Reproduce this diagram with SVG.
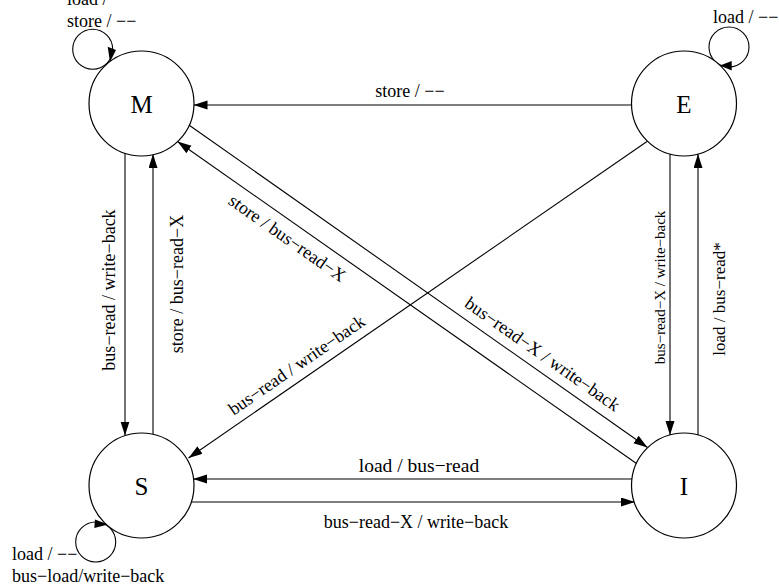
<svg xmlns="http://www.w3.org/2000/svg" width="779" height="588" viewBox="0 0 779 588">
<defs>
<style>
.node{fill:#fff;stroke:#000;stroke-width:1.2}
.nl{font-family:"Liberation Serif","Times New Roman",serif;font-size:25px;text-anchor:middle;fill:#000}
.lb{font-family:"Liberation Serif","Times New Roman",serif;font-size:18px;fill:#000}
.c{text-anchor:middle}
.ln{fill:none;stroke:#000;stroke-width:1.1}
.ah{fill:#000}
</style>
<marker id="arr" markerUnits="userSpaceOnUse" markerWidth="15" markerHeight="10" refX="14" refY="4.5" orient="auto" viewBox="0 0 15 10">
<path d="M0,0 L14,4.5 L0,9 z" fill="#000"/>
</marker>
</defs>
<rect width="779" height="588" fill="#fff"/>
<g id="connectors">
<line class="ln" x1="632" y1="105" x2="193.5" y2="105" marker-end="url(#arr)"/>
<line class="ln" x1="125" y1="153" x2="125" y2="435.5" marker-end="url(#arr)"/>
<line class="ln" x1="153" y1="434.5" x2="153" y2="154" marker-end="url(#arr)"/>
<line class="ln" x1="632.5" y1="479" x2="193" y2="479" marker-end="url(#arr)"/>
<line class="ln" x1="190.5" y1="502" x2="635" y2="502" marker-end="url(#arr)"/>
<line class="ln" x1="670" y1="154" x2="670" y2="435" marker-end="url(#arr)"/>
<line class="ln" x1="698" y1="435" x2="698" y2="154" marker-end="url(#arr)"/>
<line class="ln" x1="188.5" y1="124.7" x2="647.5" y2="447.5" marker-end="url(#arr)"/>
<line class="ln" x1="636.5" y1="463.5" x2="177.5" y2="141.5" marker-end="url(#arr)"/>
<line class="ln" x1="647" y1="141.5" x2="188.5" y2="458" marker-end="url(#arr)"/>
<circle class="ln" cx="92.7" cy="49.3" r="20"/>
<polygon class="ah" points="110,62 116,50 107.7,46.7"/>
<circle class="ln" cx="729" cy="47" r="20"/>
<polygon class="ah" points="720,65.5 731.7,61 731.7,70.5"/>
<circle class="ln" cx="95.7" cy="542" r="20"/>
<polygon class="ah" points="108,524.5 95,519.5 94.3,528"/>
</g>
<g id="M"><circle class="node" cx="141.5" cy="103.5" r="52.5"/><text class="nl" x="141.5" y="112.5">M</text></g>
<g id="E"><circle class="node" cx="684" cy="103.5" r="52.5"/><text class="nl" x="684" y="112.5">E</text></g>
<g id="S"><circle class="node" cx="141.5" cy="485.5" r="52.5"/><text class="nl" x="141.5" y="494.5">S</text></g>
<g id="I"><circle class="node" cx="684" cy="485.5" r="52.5"/><text class="nl" x="684" y="494.5">I</text></g>
<g id="labels">
<text class="lb" x="67" y="5">load /</text>
<text class="lb" x="67" y="27">store / −−</text>
<text class="lb" x="713" y="23">load / −−</text>
<text class="lb" x="12" y="560">load / −−</text>
<text class="lb" x="12" y="582">bus−load/write−back</text>
<text class="lb c" x="410" y="97">store / −−</text>
<text class="lb c" style="font-size:19.5px" x="419" y="472">load / bus−read</text>
<text class="lb c" x="416" y="528">bus−read−X / write−back</text>
<text class="lb c" transform="translate(115,290) rotate(-90)">bus−read / write−back</text>
<text class="lb c" transform="translate(183,284) rotate(-90)">store / bus−read−X</text>
<text class="lb c" style="font-size:15px" transform="translate(665,287.5) rotate(-90)">bus−read−X / write−back</text>
<text class="lb c" style="font-size:17px" transform="translate(725,299) rotate(-90)">load / bus−read*</text>
<text class="lb c" transform="translate(284,243) rotate(35)">store / bus−read−X</text>
<text class="lb c" transform="translate(539,359) rotate(35)">bus−read−X / write−back</text>
<text class="lb c" transform="translate(300,370) rotate(-34.6)">bus−read / write−back</text>
</g>
</svg>
